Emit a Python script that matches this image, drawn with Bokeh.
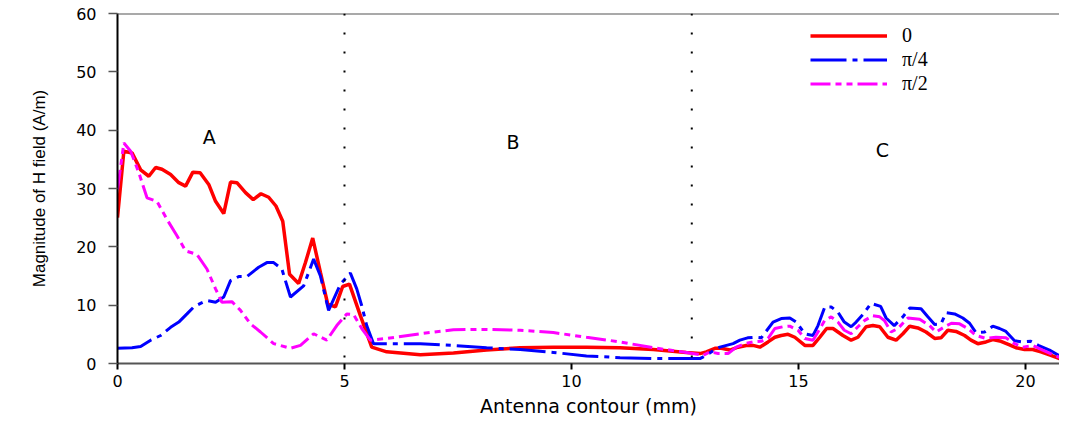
from bokeh.plotting import figure
from bokeh.models import Range1d, Span, FixedTicker, Legend, LegendItem
from bokeh.core.properties import value
from bokeh.embed import file_html
from bokeh.resources import INLINE

# ---- data ----
red_x = [0, 0.14, 0.32, 0.51, 0.69, 0.84, 0.98, 1.17, 1.35, 1.50, 1.66, 1.82, 2.01, 2.16, 2.34,
         2.49, 2.63, 2.82, 2.99, 3.16, 3.33, 3.49, 3.64, 3.79, 3.99, 4.14, 4.30, 4.47, 4.63, 4.80,
         4.96, 5.11, 5.35, 5.60, 5.93, 6.67, 7.40, 8.13, 8.87, 9.60, 10.33, 11.07, 11.80, 12.53,
         12.83, 12.97, 13.16, 13.30, 13.49, 13.67, 13.85, 14.00, 14.15, 14.33, 14.48, 14.62, 14.77,
         14.92, 15.14, 15.32, 15.47, 15.62, 15.76, 15.98, 16.16, 16.31, 16.49, 16.64, 16.79, 16.97,
         17.15, 17.30, 17.45, 17.63, 17.81, 18.00, 18.14, 18.29, 18.47, 18.66, 18.80, 18.95, 19.13,
         19.28, 19.46, 19.65, 19.79, 19.98, 20.16, 20.34, 20.56, 20.75, 20.9]
red_y = [25.0, 36.4, 36.1, 33.2, 32.1, 33.6, 33.3, 32.4, 31.0, 30.4, 32.8, 32.7, 30.7, 27.8, 25.7,
         31.1, 31.0, 29.3, 28.1, 29.1, 28.5, 27.0, 24.4, 15.3, 13.7, 17.3, 21.5, 15.6, 10.2, 9.7,
         13.2, 13.6, 8.2, 2.8, 2.0, 1.5, 1.8, 2.3, 2.7, 2.8, 2.8, 2.7, 2.4, 1.9,
         1.7, 2.0, 2.6, 2.6, 2.3, 2.8, 3.1, 3.1, 2.8, 3.7, 4.5, 4.8, 5.0,
         4.5, 3.1, 3.1, 4.5, 6.0, 6.0, 4.8, 4.0, 4.5, 6.3, 6.5, 6.3, 4.5,
         4.0, 5.1, 6.4, 6.1, 5.4, 4.3, 4.4, 5.7, 5.5, 4.8, 4.0, 3.4, 3.7,
         4.1, 3.8, 3.2, 2.7, 2.4, 2.4, 2.0, 1.4, 0.85, 0.4]

blue_x = [0, 0.32, 0.51, 0.73, 0.95, 1.17, 1.35, 1.53, 1.68, 1.83, 1.97, 2.16, 2.34, 2.49, 2.67,
          2.85, 3.11, 3.29, 3.44, 3.62, 3.81, 4.10, 4.32, 4.47, 4.65, 4.91, 5.13, 5.27, 5.38, 5.49,
          5.64, 6.67, 7.40, 8.13, 8.87, 9.60, 10.33, 11.07, 11.80, 12.53, 12.83, 12.97, 13.16,
          13.27, 13.56, 13.71, 13.88, 14.04, 14.18, 14.44, 14.62, 14.81, 14.95, 15.14, 15.32, 15.43,
          15.58, 15.72, 15.87, 16.01, 16.16, 16.27, 16.42, 16.60, 16.81, 16.93, 17.11, 17.30, 17.45,
          17.70, 17.85, 18.00, 18.14, 18.25, 18.44, 18.62, 18.77, 18.91, 19.10, 19.28, 19.43, 19.57,
          19.76, 19.94, 20.12, 20.31, 20.53, 20.71, 20.9]
blue_y = [2.6, 2.7, 2.9, 4.0, 4.8, 6.2, 7.1, 8.5, 9.7, 10.3, 10.8, 10.5, 11.4, 14.2, 14.9,
          14.9, 16.5, 17.3, 17.3, 16.2, 11.4, 13.3, 17.9, 15.0, 9.1, 13.6, 15.5, 12.8, 9.9, 6.5,
          3.4, 3.4, 3.1, 2.7, 2.4, 1.9, 1.3, 1.0, 0.85, 0.85, 0.85, 1.4, 2.4,
          2.8, 3.4, 4.0, 4.4, 4.5, 4.4, 7.1, 7.7, 7.8, 7.1, 5.1, 4.8, 6.5,
          9.7, 9.7, 8.8, 7.1, 6.3, 7.1, 8.4, 10.3, 9.8, 7.8, 6.5, 8.0, 9.5,
          9.4, 8.0, 6.7, 6.8, 8.7, 8.5, 7.8, 6.9, 5.3, 5.4, 6.4, 6.0, 5.5,
          3.9, 3.7, 3.8, 3.0, 2.3, 1.5, 0.6]

mag_x = [0, 0.14, 0.29, 0.47, 0.65, 0.87, 1.09, 1.31, 1.50, 1.75, 1.97, 2.16, 2.30, 2.52, 2.71,
         2.93, 3.15, 3.44, 3.81, 4.03, 4.32, 4.61, 4.83, 5.05, 5.20, 5.38, 5.57, 5.93, 6.67, 7.40,
         8.13, 8.87, 9.60, 10.33, 11.07, 11.80, 12.53, 12.90, 13.05, 13.23, 13.45, 13.63, 13.82,
         14.00, 14.18, 14.33, 14.48, 14.66, 14.81, 14.99, 15.14, 15.32, 15.43, 15.58, 15.72, 15.87,
         16.01, 16.16, 16.31, 16.46, 16.64, 16.79, 16.90, 17.04, 17.19, 17.41, 17.67, 17.89, 18.03,
         18.22, 18.37, 18.55, 18.73, 18.91, 19.13, 19.35, 19.57, 19.76, 19.94, 20.16, 20.38, 20.64,
         20.9]
mag_y = [29.8, 37.8, 36.4, 32.7, 28.4, 27.8, 24.7, 21.9, 19.3, 18.7, 16.2, 12.8, 10.5, 10.6, 9.1,
         6.8, 5.4, 3.4, 2.6, 3.1, 5.1, 4.0, 6.5, 8.5, 8.4, 6.0, 4.0, 4.3, 5.1, 5.8,
         5.85, 5.7, 5.3, 4.5, 3.7, 2.7, 1.9, 1.4, 2.0, 1.7, 1.7, 2.8, 3.4,
         3.7, 3.8, 4.3, 6.0, 6.3, 6.4, 5.7, 4.3, 4.0, 5.4, 7.4, 8.0, 7.1,
         5.7, 5.1, 6.3, 7.4, 8.2, 8.0, 7.3, 5.4, 6.0, 7.8, 7.6, 6.5, 5.4,
         6.3, 6.9, 6.8, 6.0, 4.8, 4.3, 4.5, 4.4, 3.4, 2.8, 3.1, 2.3, 1.4,
         0.6]

series_labels = ["0", "\u03c0/4", "\u03c0/2"]
region_labels = ["A", "B", "C"]
region_x = [2.02, 8.71, 16.85]
region_y = [38.9, 38.0, 36.6]
boundaries = [5.0, 12.65]
x_ticks = [0, 5, 10, 15, 20]
y_ticks = [0, 10, 20, 30, 40, 50, 60]

# ---- figure ----
p = figure(width=1059, height=419, output_backend="svg", toolbar_location=None,
           x_range=Range1d(0, 20.75), y_range=Range1d(0, 60),
           min_border_left=117, min_border_right=0, min_border_top=13, min_border_bottom=54)
p.outline_line_color = None
p.xgrid.visible = False
p.ygrid.visible = False
p.background_fill_color = "white"

for ax, ticks in ((p.xaxis, x_ticks), (p.yaxis, y_ticks)):
    ax.ticker = FixedTicker(ticks=ticks)
    ax.minor_tick_line_color = None
    ax.major_tick_in = 0
    ax.major_label_text_font = "DejaVu Sans"
    ax.major_label_text_font_size = "16px"
    ax.major_label_text_color = "black"
    ax.axis_label_text_font_style = "normal"
    ax.axis_label_text_color = "black"

p.xaxis.major_tick_out = 6
p.yaxis.major_tick_out = 9
p.xaxis.axis_line_color = "#555555"
p.xaxis.axis_line_width = 2
p.xaxis.major_tick_line_color = "black"
p.xaxis.major_tick_line_width = 2
p.yaxis.axis_line_color = "black"
p.yaxis.axis_line_width = 2
p.yaxis.major_tick_line_color = "#555555"
p.yaxis.major_tick_line_width = 1.5
p.yaxis.major_label_standoff = 12
p.xaxis.major_label_standoff = 5

p.xaxis.axis_label = "Antenna contour (mm)"
p.xaxis.axis_label_text_font = "DejaVu Sans"
p.xaxis.axis_label_text_font_size = "19px"
p.xaxis.axis_label_standoff = 5
p.yaxis.axis_label = "Magnitude of H field (A/m)"
p.yaxis.axis_label_text_font = "Liberation Sans"
p.yaxis.axis_label_text_font_size = "17px"
p.yaxis.axis_label_standoff = 24

# top border line
p.add_layout(Span(location=60, dimension="width", line_color="#555555", line_width=2))
# region boundaries
for b in boundaries:
    p.add_layout(Span(location=b, dimension="height", line_color="black",
                      line_width=2, line_dash="2 17"))

r0 = p.line(red_x, red_y, line_color="#ff0000", line_width=3.5)
r1 = p.line(blue_x, blue_y, line_color="#0000ff", line_width=3, line_dash="36 6 5 6")
r2 = p.line(mag_x, mag_y, line_color="#ff00ff", line_width=3, line_dash="20 5 6 5 6 5")

p.text(region_x, region_y, text=region_labels, text_font=value("DejaVu Sans"),
       text_font_size="19px", text_align="center", text_baseline="middle", text_color="black")

legend = Legend(items=[LegendItem(label=series_labels[0], renderers=[r0]),
                       LegendItem(label=series_labels[1], renderers=[r1]),
                       LegendItem(label=series_labels[2], renderers=[r2])],
                location=(693, 268), glyph_width=77, glyph_height=21, label_height=21,
                spacing=1, label_standoff=15, padding=10, border_line_color=None,
                background_fill_alpha=0, label_text_font="Liberation Serif",
                label_text_font_size="20px", label_text_color="black",
                label_text_line_height=1.0)
p.add_layout(legend)

open("out.html", "w").write(file_html(p, INLINE))
